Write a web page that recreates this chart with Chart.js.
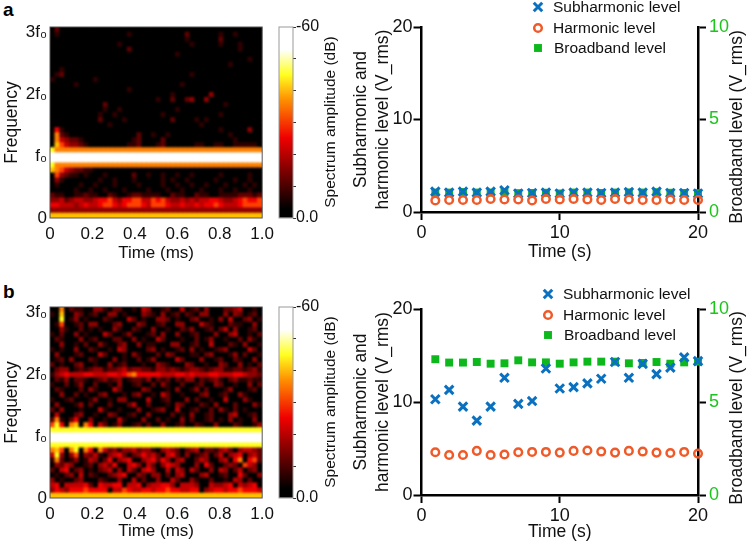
<!DOCTYPE html>
<html>
<head>
<meta charset="utf-8">
<script src="https://cdn.jsdelivr.net/npm/chart.js@4/dist/chart.umd.min.js"></script>
<style>
  body { margin: 0; background: #fff; }
  canvas { position: absolute; }
  .tag { position: absolute; font: bold 19px "Liberation Sans", Arial, sans-serif; color: #000; }
</style>
</head>
<body>
<div class="tag" style="left:3px;top:-1px">a</div>
<div class="tag" style="left:3px;top:281px">b</div>
<canvas id="heatA" width="280" height="265" style="left:0;top:0"></canvas>
<canvas id="barA" width="80" height="265" style="left:270px;top:0"></canvas>
<canvas id="levelA" width="397" height="265" style="left:350px;top:0"></canvas>
<canvas id="heatB" width="280" height="268" style="left:0;top:275px"></canvas>
<canvas id="barB" width="80" height="268" style="left:270px;top:275px"></canvas>
<canvas id="levelB" width="397" height="268" style="left:350px;top:275px"></canvas>
<script>
const seconds = [1,2,3,4,5,6,7,8,9,10,11,12,13,14,15,16,17,18,19,20];

const subA = [2.2,2.1,2.2,2.1,2.2,2.35,2.0,2.05,2.1,2.0,2.1,2.1,2.05,2.1,2.15,2.1,2.2,2.05,2.05,2.0];
const harmA = [1.25,1.3,1.3,1.3,1.4,1.35,1.35,1.25,1.4,1.35,1.4,1.35,1.3,1.4,1.35,1.3,1.3,1.35,1.3,1.3];
const broadA = [1.05,1.05,1.08,1.05,1.05,1.08,1.02,1.03,1.04,1.0,1.05,1.05,1.03,1.05,1.06,1.05,1.07,1.04,1.03,1.02];

const subB = [10.3,11.3,9.5,8.0,9.5,12.6,9.8,10.1,13.6,11.45,11.6,12.0,12.5,14.3,12.6,14.1,13.0,13.7,14.8,14.4];
const harmB = [4.6,4.3,4.3,4.75,4.3,4.35,4.6,4.63,4.63,4.56,4.74,4.78,4.67,4.56,4.74,4.67,4.56,4.52,4.63,4.45];
const broadB = [7.3,7.12,7.12,7.15,7.06,7.08,7.24,7.13,7.13,7.06,7.13,7.17,7.17,7.17,7.08,7.1,7.15,7.06,7.13,7.17];

const legendNames = ['Subharmonic level', 'Harmonic level', 'Broadband level'];

// spectrogram cells, top row first, 0 = black .. a = white
const spectrumA = [
"02000000000000000000000000000000000000000000",
"01000000000000001000000000002000000100100000",
"00000000000000000000000000001000000200000000",
"00000000000000100000000000000100000100010000",
"00000000000000002000000000000000000000010000",
"00000000000000000000000000100000000000000000",
"00000000000000000000000000000000000000000100",
"00000000000000000000000000000000000001000000",
"00100000000000000000000000000000000000000000",
"01200000000000000000000000000100000000000000",
"10000000010000000000000000000000000000000000",
"00000100000000000000000000010000000000000000",
"00000000000000001000000000000000000000000000",
"00000000000000000000000001000000030000000000",
"00000000000000000000001002002300300000000000",
"00000000000200000000000000000000000010000000",
"00000000000100100000000000100000000000000000",
"00000000001001000000000100000000000100000000",
"00000000002000010000000002000010100000000000",
"00000000000010000000000000000001000000000000",
"05100000000000000000000000000000000100000300",
"07210000000000000020010010000000000001000000",
"07432210000000000120000200000000000000100000",
"08643321000000001120001200000011001100111110",
"97777777777777777777777777777777777777777777",
"aaaaaaaaaaaaaaaaaaaaaaaaaaaaaaaaaaaaaaaaaaaa",
"aaaaaaaaaaaaaaaaaaaaaaaaaaaaaaaaaaaaaaaaaaaa",
"97777777777777777777777777777777777777777777",
"87643221100000000000000000000000000000000000",
"06321101000100000200100100100100000100000100",
"03100000001001000100000101001000001000100100",
"01000010010001000010000100100100100010001010",
"00000100100100010000100010010001000100100100",
"21100112110021001221111002110021100111122212",
"33423443345564355664465643343434455433456556",
"55444345445665456665466654454454556544456666",
"33333333333333333333333333333333333333333333",
"88888888888888888888888888888888888888888888"
];

const spectrumB = [
"00702110033102200104300120040120300022340010",
"10800320120033010003210301202103300030320120",
"00901301000210004201003320100230010304002301",
"01600120330002300032001200330004210002110030",
"00310020101003100210030010021300120240300120",
"10200301000420013000120300300120003003400102",
"02100030120002200301004200010020130010020310",
"00300102003100230030110003300120040002103001",
"10100300210010430000230100120301001230000420",
"03000120004200010310002032000110230001302001",
"01203000210003010020130000420003001200210030",
"20100230010030120001003210003200100320030102",
"02330121233122342332213323212332123311221231",
"13454445544455456755555444554544455444554332",
"02130221012312301221302120213302123102311211",
"10020130020010300120020310020012003200100302",
"02100020310004200003200010300130200013000120",
"00300201002300010230010420010002300120031000",
"10012000130010330000400120003020010040003100",
"03000130200020002400200010320002103000200031",
"20300010004100100030012300400120020310201000",
"04000230010032001200300002010300120003400120",
"27102500300100410003002010030200120103010030",
"69507807504201300120200300120021003000210013",
"99999999999999999999999999999999999999999999",
"aaaaaaaaaaaaaaaaaaaaaaaaaaaaaaaaaaaaaaaaaaaa",
"aaaaaaaaaaaaaaaaaaaaaaaaaaaaaaaaaaaaaaaaaaaa",
"99999999999999999999999999999999999999999999",
"78607907507423133423310343202340221342034432",
"49303603241034520235342045203012302403450342",
"17201301430250345003452530340024300340570562",
"03243001203425004530420354300030520023206430",
"20450230102340304204530040430420030430240230",
"01023040210023450032033020340003400120052003",
"30100230002100300402003004200310020010430200",
"45044445205445504450344553044430043345043450",
"35435556555504465445545565544550345545565554",
"88888888888888888888888888888888888888888888"
];

const heatColors = { '0':'#000000','1':'#300000','2':'#600000','3':'#900000','4':'#c00000','5':'#f00000','6':'#ff4000','7':'#ff8000','8':'#ffc000','9':'#ffff20','a':'#ffffff' };
const barStops = [[0,'#000000'],[0.05,'#000000'],[0.2,'#600000'],[0.42,'#f00000'],[0.62,'#ff9000'],[0.75,'#ffff20'],[0.88,'#ffffff'],[1,'#ffffff']];

const freqTop = 3.08;
const freqTicks = ['0', 'f\u2080', '2f\u2080', '3f\u2080'];
const timeTicks = { 0:'0', 0.2:'0.2', 0.4:'0.4', 0.6:'0.6', 0.8:'0.8', 1:'1.0' };

const family = '"Liberation Sans", Arial, sans-serif';
const ink = '#111';
const green = '#1cc41c';
Chart.defaults.font.family = family;
Chart.defaults.animation = false;
Chart.defaults.responsive = false;
Chart.defaults.color = ink;

// soften the cells the way the picture is smoothed, then put the frame back
const softCells = {
  id: 'softCells',
  afterDatasetsDraw(chart) {
    const { ctx, chartArea: a, canvas } = chart;
    ctx.save();
    ctx.beginPath();
    ctx.rect(a.left, a.top, a.width, a.height);
    ctx.clip();
    ctx.filter = 'blur(1.1px)';
    ctx.drawImage(canvas, 0, 0);
    ctx.restore();
    ctx.strokeStyle = '#555';
    ctx.lineWidth = 1;
    ctx.strokeRect(a.left, a.top, a.width, a.height);
  }
};

// right hand titles read upwards, Chart.js turns them the other way
const upTitle = {
  id: 'upTitle',
  afterDraw(chart, args, o) {
    const ctx = chart.ctx;
    ctx.save();
    ctx.translate(o.x, o.y);
    ctx.rotate(-Math.PI / 2);
    ctx.font = o.size + 'px ' + family;
    ctx.fillStyle = ink;
    ctx.textAlign = 'center';
    ctx.textBaseline = 'middle';
    ctx.fillText(o.text, 0, 0);
    ctx.restore();
  }
};

const markerLegend = {
  id: 'markerLegend',
  afterDraw(chart, args, o) {
    const ctx = chart.ctx;
    chart.data.datasets.forEach((ds, i) => {
      ctx.save();
      ctx.strokeStyle = ds.pointBorderColor;
      ctx.fillStyle = ds.pointBackgroundColor;
      ctx.lineWidth = ds.pointBorderWidth;
      Chart.helpers.drawPoint(ctx, { pointStyle: ds.pointStyle, radius: ds.pointRadius, borderWidth: ds.pointBorderWidth, rotation: 0 }, o.markerX, o.rows[i]);
      ctx.font = '15.5px ' + family;
      ctx.fillStyle = ink;
      ctx.textBaseline = 'middle';
      ctx.fillText(ds.label, o.textX[i], o.rows[i] + 1);
      ctx.restore();
    });
  }
};

function heatPanel(id, grid, box) {
  const rowSize = freqTop / grid.length;
  const columns = Array.from(grid[0]).map((c, i) => i);
  const rows = grid.slice().reverse().map(row => ({
    data: columns.map(() => rowSize),
    backgroundColor: columns.map(i => heatColors[row[i] || '0']),
    xAxisID: 'xCells',
    barPercentage: 1,
    categoryPercentage: 1,
    borderWidth: 0
  }));
  return new Chart(document.getElementById(id), {
    type: 'bar',
    data: { labels: columns, datasets: rows },
    plugins: [softCells],
    options: {
      layout: { padding: { top: box.top, right: 12 } },
      plugins: { legend: { display: false }, tooltip: { enabled: false } },
      scales: {
        xCells: { display: false, stacked: true },
        x: {
          type: 'linear', position: 'bottom', min: 0, max: 1, offset: false,
          grid: { display: false, drawTicks: false }, border: { display: false },
          afterBuildTicks: s => { s.ticks = [0, 0.2, 0.4, 0.6, 0.8, 1].map(v => ({ value: v })); },
          afterFit: s => { s.height = box.axis; },
          ticks: { padding: 6, maxRotation: 0, font: { size: 17 }, callback: v => timeTicks[v] },
          title: { display: true, text: 'Time (ms)', font: { size: 17 }, padding: { top: 0, bottom: box.titlePad } }
        },
        y: {
          stacked: true, min: 0, max: freqTop,
          grid: { display: false, drawTicks: false }, border: { display: false },
          afterBuildTicks: s => { s.ticks = [0, 1, 2, 3].map(v => ({ value: v })); },
          afterFit: s => { s.width = 50; },
          ticks: { padding: 3, font: { size: 17 }, callback: v => freqTicks[v] },
          title: { display: true, text: 'Frequency', font: { size: 17.5 }, padding: { top: 2, bottom: 0 } }
        }
      }
    }
  });
}

function colorBar(id, box) {
  return new Chart(document.getElementById(id), {
    type: 'bar',
    data: {
      labels: ['dB'],
      datasets: [{
        data: [[-60, 0]],
        barPercentage: 1,
        categoryPercentage: 1,
        borderWidth: 0,
        backgroundColor: c => {
          const a = c.chart.chartArea;
          if (!a) return '#000';
          const g = c.chart.ctx.createLinearGradient(0, a.bottom, 0, a.top);
          barStops.forEach(s => g.addColorStop(s[0], s[1]));
          return g;
        }
      }]
    },
    plugins: [upTitle, {
      id: 'barFrame',
      afterDatasetsDraw(chart) {
        const a = chart.chartArea;
        chart.ctx.strokeStyle = '#999';
        chart.ctx.lineWidth = 1;
        chart.ctx.strokeRect(a.left, a.top, a.width, a.height);
      }
    }],
    options: {
      layout: { padding: { top: box.top, left: 9 } },
      plugins: {
        legend: { display: false }, tooltip: { enabled: false },
        upTitle: { text: 'Spectrum amplitude (dB)', x: 61, y: box.top + 95, size: 15.5 }
      },
      scales: {
        x: { display: false, afterFit: s => { s.height = box.axis; } },
        y: {
          position: 'right', reverse: true, min: -60, max: 0,
          grid: { drawOnChartArea: false, drawTicks: true, tickLength: 3, color: '#333' },
          border: { display: false },
          afterFit: s => { s.width = 57; },
          ticks: { stepSize: 10, padding: 0, autoSkip: false, font: { size: 16 }, callback: v => v === -60 ? '-60' : (v === 0 ? '0.0' : '') }
        }
      }
    }
  });
}

function levelPanel(id, sub, harm, broad, box) {
  const solidAxis = { display: true, width: 2.5, color: '#000' };
  const tickLines = { drawOnChartArea: false, drawTicks: true, tickLength: 8, tickWidth: 2, tickColor: '#000' };
  return new Chart(document.getElementById(id), {
    type: 'scatter',
    data: {
      datasets: [
        { label: legendNames[0], data: seconds.map((s, i) => ({ x: s, y: sub[i] })), yAxisID: 'y', order: 2, clip: false,
          pointStyle: 'crossRot', pointRadius: 6, pointBorderWidth: 3, pointBorderColor: '#0a70c0', pointBackgroundColor: '#0a70c0' },
        { label: legendNames[1], data: seconds.map((s, i) => ({ x: s, y: harm[i] })), yAxisID: 'y', order: 1, clip: false,
          pointStyle: 'circle', pointRadius: 3.8, pointBorderWidth: 2.5, pointBorderColor: '#f05a28', pointBackgroundColor: 'transparent' },
        { label: legendNames[2], data: seconds.map((s, i) => ({ x: s, y: broad[i] })), yAxisID: 'y1', order: 3, clip: false,
          pointStyle: 'rect', pointRadius: 5.6, pointBorderWidth: 0, pointBorderColor: '#0cb81c', pointBackgroundColor: '#0cb81c' }
      ]
    },
    plugins: [upTitle, markerLegend],
    options: {
      layout: { padding: { top: box.top } },
      plugins: {
        legend: { display: false }, tooltip: { enabled: false },
        upTitle: { text: 'Broadband level (V_rms)', x: 387, y: box.titleY, size: 17.5 },
        markerLegend: box.legend
      },
      scales: {
        x: {
          type: 'linear', min: 0, max: 20,
          grid: tickLines, border: solidAxis,
          afterFit: s => { s.height = box.axis; },
          ticks: { stepSize: 10, padding: 2, maxRotation: 0, font: { size: 18 } },
          title: { display: true, text: 'Time (s)', font: { size: 17.5 }, padding: { top: 0, bottom: box.titlePad } }
        },
        y: {
          min: 0, max: 20,
          grid: tickLines, border: solidAxis,
          afterFit: s => { s.width = 71.5; },
          ticks: { stepSize: 10, padding: 1, font: { size: 18 } },
          title: { display: true, text: ['Subharmonic and', 'harmonic level (V_rms)'], font: { size: 17.5, lineHeight: 1.25 }, padding: { top: 0, bottom: 0 } }
        },
        y1: {
          position: 'right', min: 0, max: 10,
          grid: tickLines, border: solidAxis,
          afterFit: s => { s.width = 49; },
          ticks: { stepSize: 5, padding: 3, color: green, font: { size: 18 } }
        }
      }
    }
  });
}

heatPanel('heatA', spectrumA, { top: 27, axis: 47, titlePad: 1 });
colorBar('barA', { top: 27, axis: 47 });
levelPanel('levelA', subA, harmA, broadA, {
  top: 27, axis: 53, titlePad: 2, titleY: 127,
  legend: { markerX: 188, textX: [203, 203, 204], rows: [7, 28, 48] }
});

heatPanel('heatB', spectrumB, { top: 32, axis: 45, titlePad: 1 });
colorBar('barB', { top: 32, axis: 45 });
levelPanel('levelB', subB, harmB, broadB, {
  top: 34, axis: 48, titlePad: 0, titleY: 133,
  legend: { markerX: 198, textX: [213, 213, 214], rows: [19, 40, 60] }
});
</script>
</body>
</html>
